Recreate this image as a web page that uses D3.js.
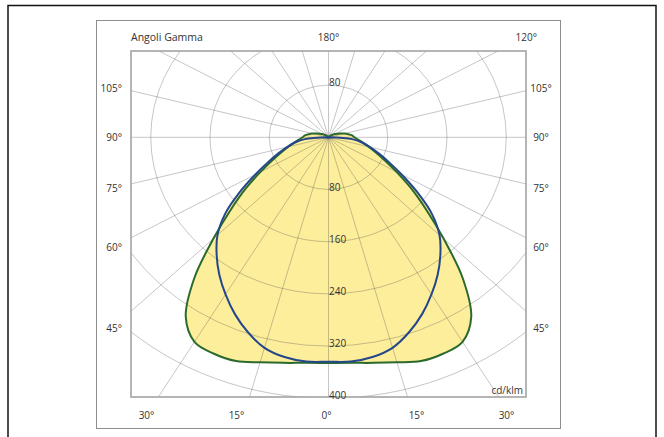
<!DOCTYPE html>
<html><head><meta charset="utf-8">
<script src="https://cdn.jsdelivr.net/npm/d3@7"></script>
<style>
body{margin:0;background:#fff}
svg{display:block}
text{font-family:"Open Sans",sans-serif;fill:#333}
</style>
</head><body>
<svg id="chart" width="664" height="437"></svg>
<script>
// ---- data ----
const gammaAngles = [0,5,10,15,20,25,30,35,40,45,50,55,60,65,70,75,80,85,90,95,100,105,110,115,120,125,130,135,140,145,150,155,160,165,170,175,180];
// C0-C180 plane (green), cd/klm
const planeC0 = [346,347,351,357,365,366,362,336,282,220,172,136,106,84,68,56,47,40,35,32,27,22,17,13,10,7,5,3,2,2,1,1,1,1,1,1,1];
// C90-C270 plane (blue), cd/klm
const planeC90 = [344,345,342,334,318,299,278,257,235,212,182,146,114,90,72,58,46,32,0,0,0,0,0,0,0,0,0,0,0,0,0,0,0,0,0,0,0];
const ringValues = [80,160,240,320,400,480];
const ringLabels = ["80","160","240","320","400"];
const spokeAngles = d3.range(0,360,15);
const sideLabels = ["105°","90°","75°","60°","45°"];
const sideGammas = [105,90,75,60,45];
const bottomLabels = ["30°","15°","0°","15°","30°"];
const bottomGammas = [-30,-15,0,15,30];
const titleText = "Angoli Gamma";
const topLabels = ["180°","120°"];
const unitText = "cd/klm";

// ---- layout ----
const svg = d3.select("#chart");
const cx = 328.5, cy = 137.3, kx = 1.135;
const box = {x0:131, y0:51, x1:526, y1:397};
const r = d3.scaleLinear().domain([0,400]).range([0,261]);
function pt(g, v){ const a = g*Math.PI/180; return [cx + kx*r(v)*Math.sin(a), cy + r(v)*Math.cos(a)]; }

// frames
svg.append("rect").attr("x",8).attr("y",5.5).attr("width",648).attr("height",445)
  .attr("fill","none").attr("stroke","#111").attr("stroke-width",1.5);
svg.append("rect").attr("x",96.5).attr("y",20.5).attr("width",464).attr("height",408)
  .attr("fill","#fff").attr("stroke","#8e8e8e").attr("stroke-width",1);

const defs = svg.append("defs");
defs.append("clipPath").attr("id","clip").append("rect")
  .attr("x",box.x0).attr("y",box.y0).attr("width",box.x1-box.x0).attr("height",box.y1-box.y0);
const plot = svg.append("g").attr("clip-path","url(#clip)");

// closed curves (mirror left/right)
function fullCurve(vals){
  const pts = [];
  gammaAngles.forEach((g,i)=>pts.push(pt(g, vals[i])));
  for(let i=gammaAngles.length-2;i>0;i--) pts.push(pt(-gammaAngles[i], vals[i]));
  return pts;
}
const line = d3.line().curve(d3.curveCatmullRomClosed.alpha(0.5));
const green = fullCurve(planeC0), blue = fullCurve(planeC90);
plot.append("path").attr("d",line(green)).attr("fill","#fdee9c");
plot.append("path").attr("d",line(blue)).attr("fill","#fdee9c");

// grid
const gridStroke = "rgba(55,55,55,0.36)";
plot.selectAll("ellipse.ring").data(ringValues).enter().append("ellipse")
  .attr("cx",cx).attr("cy",cy).attr("rx",d=>kx*r(d)).attr("ry",d=>r(d))
  .attr("fill","none").attr("stroke",gridStroke).attr("stroke-width",0.8);
plot.selectAll("line.spoke").data(spokeAngles).enter().append("line")
  .attr("x1",cx).attr("y1",cy)
  .attr("x2",d=>pt(d,700)[0]).attr("y2",d=>pt(d,700)[1])
  .attr("stroke",gridStroke).attr("stroke-width",0.8);

// curves
plot.append("path").attr("d",line(green)).attr("fill","none").attr("stroke","#2b6a2c").attr("stroke-width",2);
plot.append("path").attr("d",line(blue)).attr("fill","none").attr("stroke","#24468a").attr("stroke-width",2);

// inner box
svg.append("rect").attr("x",box.x0).attr("y",box.y0).attr("width",box.x1-box.x0).attr("height",box.y1-box.y0)
  .attr("fill","none").attr("stroke","#a3a3a3").attr("stroke-width",1.6);

// ring labels
const fs = 10;
svg.append("text").attr("x",cx+0.5).attr("y",cy - r(80) + 1).attr("font-size",fs).text(ringLabels[0]);
svg.selectAll("text.rl").data(ringLabels).enter().append("text")
  .attr("x",cx+0.5).attr("y",(d,i)=>cy + r(ringValues[i]) + 1).attr("font-size",fs).text(d=>d);

// side labels
const sideY = g => cy + 191.5/Math.tan(g*Math.PI/180) + (g > 90 ? 6 : 3.5);
svg.selectAll("text.sl").data(sideLabels).enter().append("text")
  .attr("x",122).attr("y",(d,i)=>sideY(sideGammas[i])).attr("text-anchor","end").attr("font-size",fs).text(d=>d);
svg.selectAll("text.sr").data(sideLabels).enter().append("text")
  .attr("x",541).attr("y",(d,i)=>sideY(sideGammas[i])).attr("text-anchor","middle").attr("font-size",fs).text(d=>d);
// bottom labels
svg.selectAll("text.bl").data(bottomLabels).enter().append("text")
  .attr("x",(d,i)=>cx - 2 + bottomGammas[i]*6).attr("y",418.5).attr("text-anchor","middle").attr("font-size",fs).text(d=>d);
// top labels
svg.append("text").attr("x",131).attr("y",40.5).attr("font-size",10.5).text(titleText);
svg.append("text").attr("x",cx).attr("y",40.5).attr("text-anchor","middle").attr("font-size",fs).text(topLabels[0]);
svg.append("text").attr("x",537).attr("y",40.5).attr("text-anchor","end").attr("font-size",fs).text(topLabels[1]);
svg.append("text").attr("x",523).attr("y",394).attr("text-anchor","end").attr("font-size",fs).text(unitText);
</script>
</body></html>
